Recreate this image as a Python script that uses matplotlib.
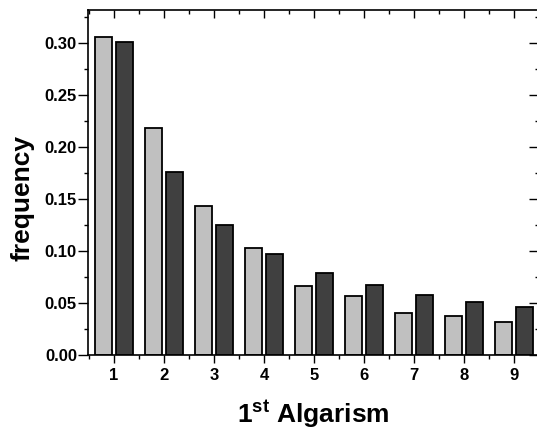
import numpy as np
import matplotlib
matplotlib.use("Agg")
import matplotlib.pyplot as plt
from matplotlib.ticker import MultipleLocator, FormatStrFormatter

plt.rcParams['font.family'] = 'Liberation Sans'
plt.rcParams['font.weight'] = 'bold'
plt.rcParams['mathtext.fontset'] = 'custom'
plt.rcParams['mathtext.rm'] = 'Liberation Sans:bold'
plt.rcParams['mathtext.bf'] = 'Liberation Sans:bold'

# first digit frequencies: observed (light) vs Benford (dark)
digits = [1, 2, 3, 4, 5, 6, 7, 8, 9]
observed = [0.306, 0.218, 0.143, 0.103, 0.066, 0.057, 0.040, 0.038, 0.032]
benford = [0.301, 0.176, 0.125, 0.097, 0.079, 0.067, 0.058, 0.051, 0.046]

fig = plt.figure(figsize=(5.37, 4.33), dpi=100)
ax = fig.add_axes([0.164, 0.180, 0.840, 0.797])

x = np.array(digits)
w = 0.34
ax.bar(x - 0.205, observed, width=w, color='#c0c0c0', edgecolor='black', linewidth=1.3)
ax.bar(x + 0.205, benford, width=w, color='#404040', edgecolor='black', linewidth=1.3)

ax.set_xlim(0.48, 9.5)
ax.set_ylim(0, 0.332)
ax.set_xticks(digits)
ax.xaxis.set_minor_locator(MultipleLocator(0.5))
ax.yaxis.set_major_locator(MultipleLocator(0.05))
ax.yaxis.set_minor_locator(MultipleLocator(0.025))
ax.yaxis.set_major_formatter(FormatStrFormatter('%.2f'))

ax.tick_params(axis='both', which='both', top=True, right=True, width=1.0)
ax.tick_params(axis='both', which='major', labelsize=12)
ax.tick_params(axis='y', which='major', direction='out', length=7, pad=1)
ax.tick_params(axis='y', which='minor', direction='out', length=3)
ax.tick_params(axis='x', which='major', direction='out', length=5.5, pad=4)
ax.tick_params(axis='x', which='minor', direction='out', length=3)
# top and right ticks point inward
for t in ax.xaxis.get_major_ticks() + ax.xaxis.get_minor_ticks():
    t.tick2line.set_marker(matplotlib.lines.TICKDOWN)
for t in ax.yaxis.get_major_ticks() + ax.yaxis.get_minor_ticks():
    t.tick2line.set_marker(matplotlib.lines.TICKLEFT)

for s in ax.spines.values():
    s.set_linewidth(1.2)

ax.set_ylabel('frequency', fontsize=19, fontweight='bold')
ax.yaxis.set_label_coords(-0.118, 0.455)
ax.set_xlabel(r'$\mathbf{1^{st}}$ Algarism', fontsize=19, fontweight='bold', labelpad=11)

fig.savefig('out.png', dpi=100)
